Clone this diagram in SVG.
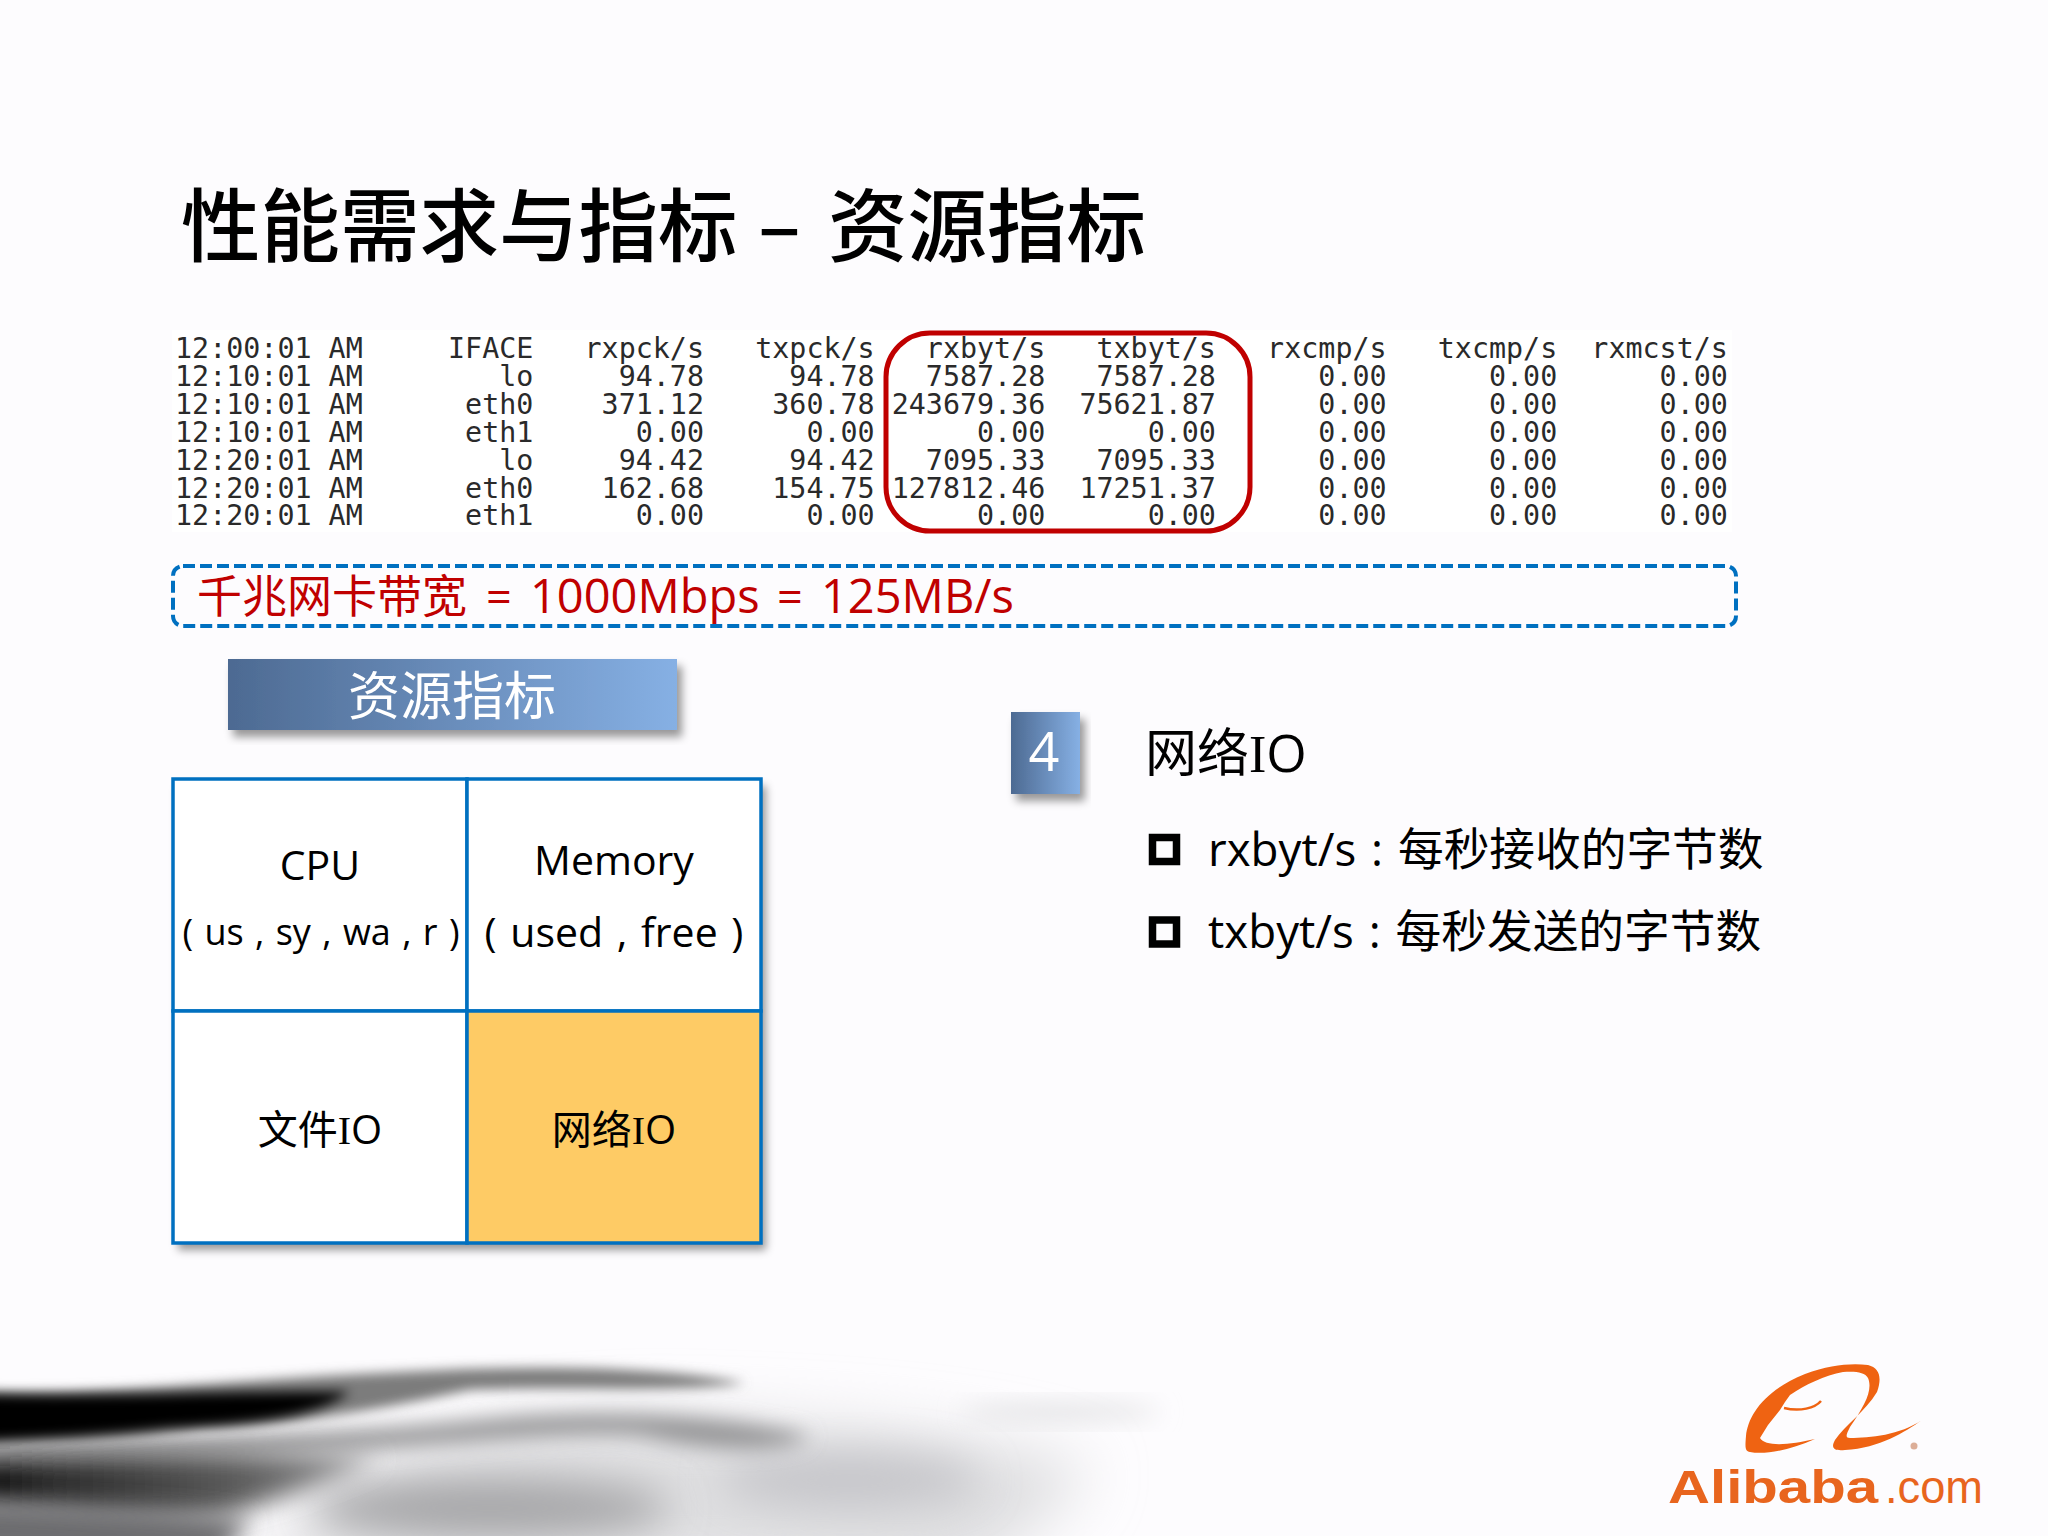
<svg xmlns="http://www.w3.org/2000/svg" width="2048" height="1536" viewBox="0 0 2048 1536">
<style>
.cjk{font-family:"Open Sans","Noto Sans CJK SC",sans-serif}
.title{font-family:"Noto Sans CJK SC",sans-serif;font-size:79.5px;font-weight:500;fill:#000}
.mono{font-family:"DejaVu Sans Mono",monospace;font-size:28.35px;fill:#2a2a2a}
.t40{font-size:41px;fill:#000;text-anchor:middle}
.line{font-size:45.7px;fill:#000;word-spacing:3px}
.cell{fill:#fff;stroke:#0070c0;stroke-width:3.5}
.bullet{fill:none;stroke:#000;stroke-width:7.5}
.serif{font-family:"Liberation Serif",serif}
</style>
<defs>
<linearGradient id="blue" x1="0" y1="0" x2="1" y2="0"><stop offset="0" stop-color="#4d6a92"/><stop offset="1" stop-color="#86b0e4"/></linearGradient>
<linearGradient id="lump" x1="0" y1="0" x2="1" y2="0"><stop offset="0" stop-color="#000"/><stop offset="0.2" stop-color="#2a2a2a"/><stop offset="0.65" stop-color="#5a5a5a"/><stop offset="1" stop-color="#9a9a9c"/></linearGradient>
<filter id="shadow" x="-10%" y="-10%" width="125%" height="130%"><feDropShadow dx="5" dy="7" stdDeviation="4" flood-color="#000" flood-opacity="0.4"/></filter>
<filter id="b6" x="-30%" y="-60%" width="160%" height="220%"><feGaussianBlur stdDeviation="6"/></filter>
<filter id="b10" x="-30%" y="-150%" width="160%" height="400%"><feGaussianBlur stdDeviation="10"/></filter>
<filter id="b14" x="-30%" y="-60%" width="160%" height="220%"><feGaussianBlur stdDeviation="12"/></filter>
<filter id="b20" x="-40%" y="-80%" width="180%" height="260%"><feGaussianBlur stdDeviation="20"/></filter>
<filter id="b28" x="-40%" y="-80%" width="180%" height="260%"><feGaussianBlur stdDeviation="30"/></filter>
</defs>
<rect width="2048" height="1536" fill="#fdfcfe"/>
<g id="smoke">
<path d="M250,1560 C330,1470 500,1410 700,1420 C880,1425 1020,1440 1090,1470 C1060,1510 1020,1540 960,1580 Z" fill="#dedee0" filter="url(#b28)"/>
<ellipse cx="850" cy="1480" rx="130" ry="28" fill="#c6c6ca" filter="url(#b20)"/>
<ellipse cx="1060" cy="1412" rx="100" ry="9" fill="#e2e2e4" filter="url(#b14)"/>
<ellipse cx="490" cy="1508" rx="180" ry="30" fill="#a6a6a8" filter="url(#b20)"/>
<path d="M-30,1444 C160,1440 330,1434 480,1420 C580,1410 720,1412 810,1436 C790,1452 720,1454 640,1436 C560,1430 440,1448 300,1454 C160,1458 60,1460 -30,1460 Z" fill="#969698" filter="url(#b10)"/>
<path d="M-40,1460 C100,1452 300,1452 380,1458 C330,1480 280,1500 220,1516 C140,1522 50,1512 -40,1505 Z" fill="url(#lump)" filter="url(#b14)"/>
<path d="M-40,1500 C60,1505 180,1510 250,1520 L220,1560 L-40,1560 Z" fill="#6c6c6e" filter="url(#b14)"/>
<path d="M-20,1392 C100,1396 250,1378 400,1372 C520,1365 650,1365 745,1383 C680,1393 560,1386 470,1390 C400,1405 300,1425 200,1428 C130,1440 50,1440 -20,1440 Z" fill="#7c7c7c" filter="url(#b6)"/>
<path d="M-30,1394 C110,1398 240,1390 350,1392 C320,1415 260,1424 170,1428 C100,1436 40,1438 -30,1442 Z" fill="#000" filter="url(#b6)"/>
</g>
<g id="title"><text class="title" y="255"><tspan x="181">性能需求与指标</tspan><tspan x="758">–</tspan><tspan x="828">资源指标</tspan></text></g>
<g id="table">
<rect x="172" y="330" width="1560" height="202" fill="#fff"/>
<text class="mono" x="175" xml:space="preserve" y="358">12:00:01 AM     IFACE   rxpck/s   txpck/s   rxbyt/s   txbyt/s   rxcmp/s   txcmp/s  rxmcst/s</text>
<text class="mono" x="175" xml:space="preserve" y="386">12:10:01 AM        lo     94.78     94.78   7587.28   7587.28      0.00      0.00      0.00</text>
<text class="mono" x="175" xml:space="preserve" y="414">12:10:01 AM      eth0    371.12    360.78 243679.36  75621.87      0.00      0.00      0.00</text>
<text class="mono" x="175" xml:space="preserve" y="441.5">12:10:01 AM      eth1      0.00      0.00      0.00      0.00      0.00      0.00      0.00</text>
<text class="mono" x="175" xml:space="preserve" y="469.5">12:20:01 AM        lo     94.42     94.42   7095.33   7095.33      0.00      0.00      0.00</text>
<text class="mono" x="175" xml:space="preserve" y="497.5">12:20:01 AM      eth0    162.68    154.75 127812.46  17251.37      0.00      0.00      0.00</text>
<text class="mono" x="175" xml:space="preserve" y="525">12:20:01 AM      eth1      0.00      0.00      0.00      0.00      0.00      0.00      0.00</text>
</g>
<g id="highlight"><rect x="886" y="333" width="364" height="198" rx="44" fill="none" stroke="#c00000" stroke-width="5"/></g>
<g id="bandwidth">
<rect x="173" y="566" width="1563" height="60" rx="10" fill="none" stroke="#0070c0" stroke-width="4" stroke-dasharray="12 5"/>
<text class="cjk" y="613" font-size="45" fill="#c00000"><tspan x="197">千兆网卡带宽</tspan><tspan x="486">=</tspan><tspan x="530" font-size="47">1000Mbps</tspan><tspan x="777">=</tspan><tspan x="821" font-size="47">125MB/s</tspan></text>
</g>
<g id="banner">
<rect x="228" y="659" width="449" height="71" fill="url(#blue)" filter="url(#shadow)"/>
<text class="cjk" x="452" y="715" font-size="52" fill="#fff" text-anchor="middle">资源指标</text>
</g>
<g id="grid">
<rect x="173" y="779" width="588" height="464" fill="#fff" filter="url(#shadow)"/>
<g id="cell-cpu"><rect class="cell" x="173" y="779" width="294" height="232"/>
<text class="cjk t40" x="320" y="880">CPU</text>
<text class="cjk t40" x="321" y="945" style="font-size:36px;word-spacing:2px">( us , sy , wa , r )</text></g>
<g id="cell-memory"><rect class="cell" x="467" y="779" width="294" height="232"/>
<text class="cjk t40" x="614" y="875">Memory</text>
<text class="cjk t40" x="614" y="947" style="word-spacing:3px">( used , free )</text></g>
<g id="cell-file"><rect class="cell" x="173" y="1011" width="294" height="232"/>
<text class="cjk t40" x="320" y="1144" style="font-size:40px">文件<tspan class="serif">I</tspan>O</text></g>
<g id="cell-net"><rect class="cell" x="467" y="1011" width="294" height="232" style="fill:#fecb65"/>
<text class="cjk t40" x="614" y="1144" style="font-size:40px">网络<tspan class="serif">I</tspan>O</text></g>
</g>
<g id="badge">
<rect x="1011" y="712" width="69" height="82" fill="url(#blue)" filter="url(#shadow)"/>
<text class="cjk" x="1044" y="771" font-size="54" fill="#fff" text-anchor="middle">4</text>
</g>
<g id="heading"><text class="cjk" x="1145" y="772" font-size="52" fill="#000">网络<tspan class="serif">I</tspan>O</text></g>
<g id="item-rx">
<rect class="bullet" x="1152.5" y="837.5" width="24" height="24"/>
<text class="cjk line" x="1208" y="866">rxbyt/s : 每秒接收的字节数</text>
</g>
<g id="item-tx">
<rect class="bullet" x="1152.5" y="920" width="24" height="24"/>
<text class="cjk line" x="1208" y="948">txbyt/s : 每秒发送的字节数</text>
</g>
<g id="logo">
<path d="M1815,1439 C1790,1450 1765,1455 1750,1452 C1745,1451 1745,1448 1746,1436 C1748,1415 1765,1390 1805,1374 C1830,1365 1850,1363 1868,1365 C1880,1368 1882,1378 1877,1392 C1865,1412 1845,1425 1835,1440 C1830,1449 1835,1451 1845,1450 C1880,1448 1905,1432 1922,1420 C1900,1435 1870,1438 1850,1438 C1845,1438 1846,1435 1850,1427 C1865,1405 1873,1390 1868,1378 C1865,1372 1855,1371 1843,1372 C1825,1375 1805,1385 1790,1395 L1785,1402 L1780,1410 L1768,1425 L1760,1438 C1765,1447 1790,1445 1815,1439 Z" fill="#ef6312"/>
<path d="M1784,1408 C1800,1412 1815,1408 1821,1401" fill="none" stroke="#ef6312" stroke-width="2.5"/>
<circle cx="1914" cy="1446" r="3.5" fill="#dcae98"/>
<text x="1668" y="1503" font-family="'Liberation Sans',sans-serif" font-weight="700" font-size="46" fill="#e8651e" textLength="210" lengthAdjust="spacingAndGlyphs">Alibaba</text>
<text x="1885" y="1503" font-family="'Liberation Sans',sans-serif" font-size="46" fill="#e8651e" textLength="98" lengthAdjust="spacingAndGlyphs">.com</text>
</g>
</svg>
